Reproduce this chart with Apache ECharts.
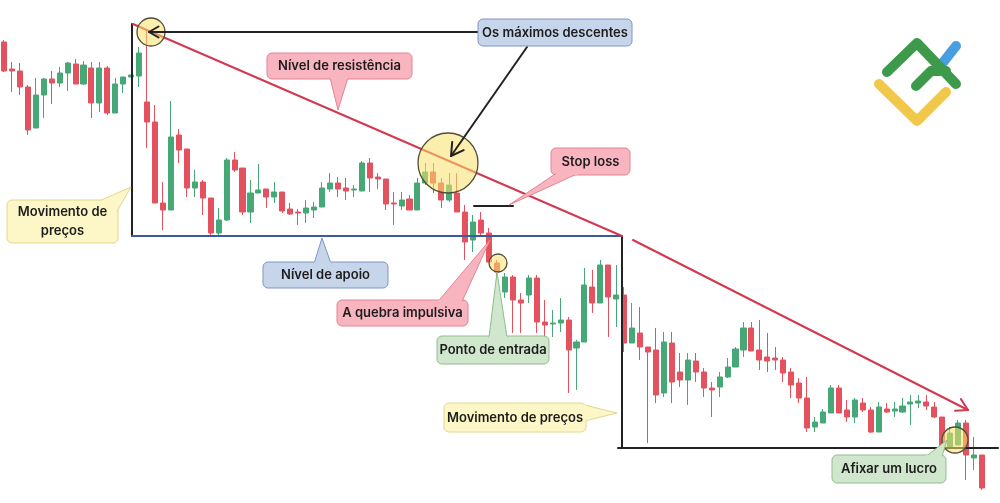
<!DOCTYPE html>
<html><head><meta charset="utf-8">
<script src="https://cdn.jsdelivr.net/npm/echarts@6/dist/echarts.min.js"></script>
<style>html,body{margin:0;padding:0;background:#fff}#c{width:1000px;height:503px}</style>
</head><body><div id="c"></div>
<script>
// Candle values (arbitrary price units)
const opens  = [458,431,429,413,372,405,421,417,427,436,416,432,397,432,387,416,423,424,398,378,297,290,365,351,312,318,302,267,280,340,332,288,307,311,303,308,291,288,287,290,293,311,317,312,310,309,337,323,321,297,294,301,290,317,328,317,300,307,288,260,280,267,237,208,223,200,205,222,178,176,177,180,152,158,213,197,235,201,205,157,167,153,150,107,157,128,120,139,128,112,113,123,133,150,172,150,143,142,140,128,117,102,73,77,87,112,90,83,97,90,68,91,89,88,96,97,98,93,83,52,55,77,42,45];
const closes = [429,429,413,370,405,421,417,427,437,416,435,397,432,387,416,423,425,447,378,297,290,363,350,312,318,302,267,280,340,330,288,307,310,303,308,289,286,287,292,293,312,317,311,309,311,337,322,321,296,296,300,290,317,328,317,300,315,288,258,278,267,238,228,223,200,197,222,178,175,177,180,150,158,215,197,235,203,205,157,172,153,148,105,158,118,120,140,128,112,110,123,133,151,172,149,140,139,140,127,115,102,72,78,88,112,87,83,100,90,68,93,88,91,94,98,99,94,83,50,67,77,45,45,12];
const lows   = [428,408,405,365,372,382,396,413,409,416,415,382,388,385,387,407,423,413,352,297,270,290,337,303,303,285,263,265,279,328,285,277,307,292,297,287,285,275,277,282,293,308,303,300,303,309,308,311,290,275,290,290,290,315,307,292,298,288,240,248,265,238,213,202,167,167,197,167,163,163,168,107,110,158,187,197,163,173,148,157,140,57,97,103,97,113,95,118,103,83,103,122,133,143,149,130,128,130,118,102,97,68,68,77,87,87,78,77,88,67,68,87,83,87,75,92,90,82,48,52,55,20,30,10];
const highs  = [460,438,437,415,422,422,429,433,438,441,439,438,438,434,422,423,425,453,470,395,318,399,371,351,330,320,302,292,342,348,332,320,336,311,318,308,297,291,300,298,318,327,323,322,315,339,342,327,321,308,308,305,322,337,337,322,327,327,295,285,288,272,240,227,225,207,225,225,200,190,202,183,160,232,230,240,235,235,213,197,193,153,172,168,168,147,147,147,132,118,128,142,153,178,178,180,167,153,143,132,122,123,83,91,115,115,100,102,102,93,98,97,98,102,105,105,105,98,83,73,80,80,63,45];
const categories = opens.map((_, i) => 'Vela ' + (i + 1));

const labels = {
  resist: 'Nível de resistência',
  maximos: 'Os máximos descentes',
  stop: 'Stop loss',
  movLeft: 'Movimento de\npreços',
  apoio: 'Nível de apoio',
  quebra: 'A quebra impulsiva',
  entrada: 'Ponto de entrada',
  movRight: 'Movimento de preços',
  lucro: 'Afixar um lucro'
};

const RED = '#e4525f', GREEN = '#45a876';
const PINK = ['#f8b5bf', '#e58392'], BLUE = ['#c7d5eb', '#7d96c4'],
      YELLOW = ['#fdf6c6', '#e2d88c'], LGREEN = ['#d0e6cd', '#8fbf8c'];

const G = [];
function pl(pts, color, w, z) {
  G.push({ type: 'polyline', shape: { points: pts }, style: { stroke: color, lineWidth: w, fill: null, lineCap: 'round', lineJoin: 'round' }, z: z || 100 });
}
function circ(cx, cy, r) {
  G.push({ type: 'circle', shape: { cx, cy, r }, style: { fill: 'rgba(250,226,105,0.55)', stroke: '#4f4f36', lineWidth: 1.3 }, z: 101 });
}
function arrowHead(tip, from, len, color, w) {
  const dx = tip[0] - from[0], dy = tip[1] - from[1], L = Math.hypot(dx, dy);
  const ux = dx / L, uy = dy / L, a = Math.PI / 6;
  const p1 = [tip[0] - len * (ux * Math.cos(a) - uy * Math.sin(a)), tip[1] - len * (uy * Math.cos(a) + ux * Math.sin(a))];
  const p2 = [tip[0] - len * (ux * Math.cos(a) + uy * Math.sin(a)), tip[1] - len * (uy * Math.cos(a) - ux * Math.sin(a))];
  pl([p1, tip, p2], color, w, 102);
}
function callout(x, y, w, h, col, text, ptr) {
  G.push({ type: 'rect', shape: { x, y, width: w, height: h, r: 5 }, style: { fill: col[0], stroke: col[1], lineWidth: 1 }, z: 110 });
  if (ptr) {
    G.push({ type: 'polygon', shape: { points: [ptr[0], ptr[2], ptr[1]] }, style: { fill: col[0], stroke: col[1], lineWidth: 1 }, z: 111 });
    G.push({ type: 'polyline', shape: { points: [ptr[0], ptr[1]] }, style: { stroke: col[0], lineWidth: 3 }, z: 112 });
  }
  G.push({ type: 'text', style: { text, x: x + w / 2, y: y + h / 2 + 0.5, align: 'center', verticalAlign: 'middle', font: '600 13px Inter, "Noto Sans", sans-serif', fill: '#1c1c1c', lineHeight: 19 }, z: 113 });
}

// structure lines
pl([[132, 236], [132, 24]], '#222', 2);
pl([[132, 236], [622, 236]], '#3c5aa3', 2);
pl([[622, 237], [622, 448]], '#222', 2);
pl([[618, 448], [998, 448]], '#222', 2);
pl([[474, 206], [513, 206]], '#222', 2);
pl([[133, 24], [622, 236]], '#d4384f', 2);
pl([[633, 240], [968, 410]], '#d4384f', 2);
arrowHead([968, 410], [633, 240], 13, '#d4384f', 2);

// circles
circ(151, 32, 14);
circ(448, 163, 30);
circ(498, 263, 9);
circ(955, 440, 13);

// pointer lines from "Os máximos descentes"
pl([[478, 32], [149, 32]], '#222', 2, 103);
arrowHead([149, 32], [478, 32], 11, '#222', 2);
pl([[527, 47], [451, 156]], '#222', 2, 103);
arrowHead([451, 156], [527, 47], 14, '#222', 2);

// callouts
callout(267, 53, 145, 26, PINK, labels.resist, [[330, 77.5], [348, 77.5], [338, 110]]);
callout(478, 19, 154, 27, BLUE, labels.maximos, null);
callout(551, 148, 79, 27, PINK, labels.stop, [[556, 173.5], [578, 173.5], [509, 205]]);
callout(7, 200, 111, 43, YELLOW, labels.movLeft, [[98, 201.5], [116.5, 212], [131, 187]]);
callout(263, 262, 125, 26, BLUE, labels.apoio, [[314, 263.5], [331, 263.5], [322, 238]]);
callout(337, 300, 131, 26, PINK, labels.quebra, [[438, 301.5], [462, 301.5], [490, 240]]);
callout(437, 336, 112, 28, LGREEN, labels.entrada, [[489, 337.5], [507, 337.5], [497, 272]]);
callout(444, 403, 142, 29, YELLOW, labels.movRight, [[584.5, 405], [584.5, 421], [617, 413]]);
callout(832, 455, 114, 28, LGREEN, labels.lucro, [[926, 456.5], [942, 456.5], [947, 440]]);

// logo
pl([[941, 65], [956, 46]], '#4a9ee0', 10, 120);
pl([[887, 72], [917, 43], [956, 84]], '#3d9a4b', 10, 121);
pl([[916, 86], [931, 71], [946, 71]], '#3d9a4b', 10, 121);
pl([[879, 84], [917, 121], [946, 92]], '#f1c84a', 10, 120);

const chart = echarts.init(document.getElementById('c'), null, { renderer: 'canvas' });
chart.setOption({
  animation: false,
  backgroundColor: '#ffffff',
  grid: { left: 0, top: 0, width: 986, height: 503 },
  xAxis: { type: 'category', data: categories, show: false, boundaryGap: true },
  yAxis: { type: 'value', min: -3, max: 500, show: false, splitLine: { show: false } },
  series: [{
    type: 'candlestick',
    data: categories.map((_, i) => [opens[i], closes[i], lows[i], highs[i]]),
    barWidth: '70%',
    itemStyle: { color: GREEN, color0: RED, borderColor: GREEN, borderColor0: RED, borderWidth: 1 }
  }],
  graphic: { elements: G }
});
</script>
</body></html>
